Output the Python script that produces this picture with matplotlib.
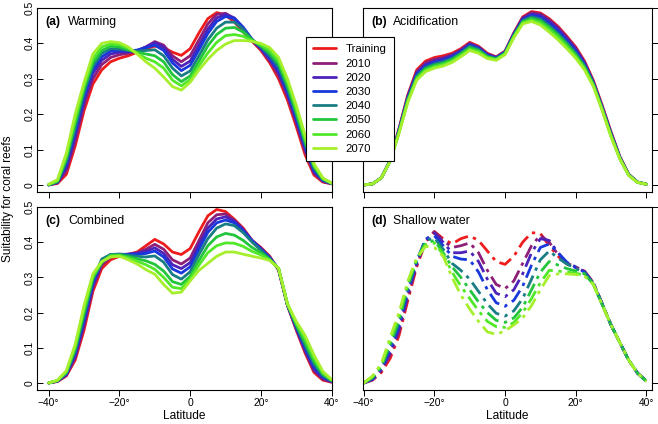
import matplotlib

matplotlib.use("Agg")
import matplotlib.pyplot as plt

plt.rcParams.update({"font.family": ["Liberation Sans", "DejaVu Sans"], "axes.linewidth": 0.8})

LAT = [-40, -37.5, -35, -32.5, -30, -27.5, -25, -22.5, -20, -17.5, -15, -12.5, -10, -7.5, -5, -2.5,
       0, 2.5, 5, 7.5, 10, 12.5, 15, 17.5, 20, 22.5, 25, 27.5, 30, 32.5, 35, 37.5, 40]
SERIES = ["Training", "2010", "2020", "2030", "2040", "2050", "2060", "2070"]
COLORS = ["#ee1c1c", "#8e1f78", "#4d22b8", "#1838dc", "#1a7d84", "#22c53c", "#52e82a", "#a6ef2c"]
PANELS = ["(a)", "(b)", "(c)", "(d)"]
NAMES = ["Warming", "Acidification", "Combined", "Shallow water"]
YTICKS = [0, 0.1, 0.2, 0.3, 0.4, 0.5]
YTICKLABELS = ["0", "0.1", "0.2", "0.3", "0.4", "0.5"]
XTICKS = [-40, -20, 0, 20, 40]
XTICKLABELS = ["\u221240\u00b0", "\u221220\u00b0", "0", "20\u00b0", "40\u00b0"]

WARMING = [
    [0.0, 0.004, 0.03, 0.11, 0.21, 0.285, 0.325, 0.348, 0.358, 0.365, 0.375, 0.385, 0.392, 0.388, 0.375, 0.366, 0.385, 0.43, 0.47, 0.487, 0.48, 0.46, 0.432, 0.406, 0.38, 0.345, 0.30, 0.24, 0.165, 0.085, 0.028, 0.008, 0.003],
    [0.0, 0.006, 0.04, 0.125, 0.225, 0.30, 0.34, 0.36, 0.368, 0.372, 0.378, 0.39, 0.405, 0.395, 0.365, 0.348, 0.365, 0.41, 0.455, 0.482, 0.485, 0.47, 0.44, 0.408, 0.383, 0.35, 0.31, 0.25, 0.175, 0.095, 0.033, 0.01, 0.003],
    [0.0, 0.007, 0.05, 0.14, 0.24, 0.315, 0.352, 0.37, 0.375, 0.376, 0.38, 0.39, 0.402, 0.39, 0.355, 0.335, 0.35, 0.395, 0.44, 0.472, 0.482, 0.472, 0.445, 0.41, 0.386, 0.355, 0.318, 0.258, 0.183, 0.102, 0.038, 0.012, 0.004],
    [0.0, 0.008, 0.06, 0.15, 0.25, 0.325, 0.362, 0.378, 0.38, 0.379, 0.381, 0.388, 0.395, 0.38, 0.345, 0.323, 0.338, 0.382, 0.428, 0.462, 0.476, 0.47, 0.445, 0.412, 0.388, 0.36, 0.325, 0.265, 0.19, 0.108, 0.042, 0.013, 0.004],
    [0.0, 0.009, 0.065, 0.16, 0.26, 0.335, 0.372, 0.385, 0.384, 0.38, 0.378, 0.38, 0.382, 0.365, 0.33, 0.308, 0.322, 0.365, 0.41, 0.443, 0.46, 0.46, 0.44, 0.41, 0.39, 0.365, 0.333, 0.272, 0.198, 0.115, 0.047, 0.015, 0.004],
    [0.001, 0.01, 0.075, 0.175, 0.272, 0.345, 0.38, 0.392, 0.39, 0.382, 0.375, 0.37, 0.365, 0.348, 0.312, 0.292, 0.308, 0.35, 0.393, 0.425, 0.443, 0.445, 0.432, 0.41, 0.393, 0.372, 0.342, 0.282, 0.205, 0.122, 0.052, 0.017, 0.005],
    [0.001, 0.012, 0.082, 0.185, 0.28, 0.356, 0.39, 0.398, 0.396, 0.386, 0.372, 0.358, 0.348, 0.33, 0.296, 0.28, 0.298, 0.337, 0.373, 0.403, 0.422, 0.425, 0.42, 0.407, 0.396, 0.38, 0.35, 0.29, 0.215, 0.13, 0.056, 0.018, 0.005],
    [0.002, 0.015, 0.09, 0.2, 0.29, 0.37, 0.4, 0.405, 0.402, 0.39, 0.37, 0.348, 0.33, 0.305, 0.278, 0.268, 0.29, 0.325, 0.355, 0.38, 0.398, 0.408, 0.408, 0.406, 0.40, 0.388, 0.36, 0.30, 0.225, 0.14, 0.06, 0.02, 0.005],
]

ACIDIFICATION = [
    [0.0, 0.003, 0.02, 0.07, 0.16, 0.255, 0.325, 0.35, 0.36, 0.365, 0.372, 0.385, 0.403, 0.392, 0.372, 0.362, 0.378, 0.43, 0.475, 0.49, 0.486, 0.47, 0.448, 0.42, 0.39, 0.35, 0.295, 0.225, 0.15, 0.08, 0.03, 0.008, 0.002],
    [0.0, 0.003, 0.02, 0.07, 0.158, 0.252, 0.32, 0.345, 0.355, 0.36, 0.368, 0.382, 0.4, 0.39, 0.37, 0.361, 0.377, 0.428, 0.472, 0.487, 0.483, 0.467, 0.445, 0.417, 0.387, 0.347, 0.292, 0.222, 0.148, 0.079, 0.03, 0.008, 0.002],
    [0.0, 0.003, 0.02, 0.07, 0.156, 0.249, 0.316, 0.34, 0.35, 0.356, 0.365, 0.379, 0.398, 0.388, 0.368, 0.36, 0.376, 0.427, 0.47, 0.483, 0.479, 0.462, 0.44, 0.413, 0.383, 0.344, 0.29, 0.22, 0.146, 0.078, 0.029, 0.008, 0.002],
    [0.0, 0.003, 0.02, 0.069, 0.154, 0.246, 0.312, 0.336, 0.346, 0.352, 0.362, 0.376, 0.395, 0.386, 0.366, 0.359, 0.375, 0.425, 0.467, 0.479, 0.474, 0.456, 0.434, 0.407, 0.378, 0.34, 0.288, 0.218, 0.144, 0.077, 0.029, 0.008, 0.002],
    [0.0, 0.003, 0.02, 0.069, 0.152, 0.243, 0.308, 0.332, 0.342, 0.348, 0.358, 0.373, 0.392, 0.383, 0.364, 0.357, 0.373, 0.423, 0.464, 0.475, 0.469, 0.45, 0.428, 0.402, 0.373, 0.337, 0.286, 0.216, 0.142, 0.076, 0.028, 0.008, 0.002],
    [0.0, 0.003, 0.02, 0.068, 0.15, 0.24, 0.304, 0.328, 0.338, 0.344, 0.354, 0.37, 0.388, 0.38, 0.362, 0.356, 0.372, 0.421, 0.461, 0.471, 0.464, 0.445, 0.423, 0.397, 0.368, 0.333, 0.284, 0.214, 0.14, 0.075, 0.028, 0.007, 0.002],
    [0.0, 0.003, 0.02, 0.068, 0.148, 0.237, 0.3, 0.324, 0.334, 0.34, 0.35, 0.366, 0.384, 0.376, 0.36, 0.354, 0.37, 0.419, 0.458, 0.466, 0.458, 0.439, 0.417, 0.391, 0.363, 0.329, 0.281, 0.212, 0.138, 0.074, 0.027, 0.007, 0.002],
    [0.0, 0.003, 0.02, 0.067, 0.146, 0.234, 0.296, 0.32, 0.33, 0.336, 0.346, 0.362, 0.38, 0.372, 0.357, 0.352, 0.368, 0.416, 0.455, 0.462, 0.452, 0.432, 0.41, 0.385, 0.358, 0.325, 0.278, 0.21, 0.136, 0.073, 0.027, 0.007, 0.002],
]

COMBINED = [
    [0.0, 0.004, 0.02, 0.065, 0.15, 0.26, 0.325, 0.35, 0.36, 0.365, 0.372, 0.39, 0.408, 0.395, 0.372, 0.365, 0.382, 0.43, 0.475, 0.493, 0.487, 0.465, 0.44, 0.405, 0.385, 0.36, 0.32, 0.22, 0.15, 0.085, 0.03, 0.008, 0.002],
    [0.0, 0.005, 0.022, 0.072, 0.162, 0.27, 0.335, 0.357, 0.363, 0.366, 0.37, 0.38, 0.394, 0.38, 0.35, 0.338, 0.355, 0.405, 0.455, 0.478, 0.48, 0.462, 0.437, 0.405, 0.383, 0.358, 0.322, 0.221, 0.153, 0.09, 0.035, 0.011, 0.003],
    [0.0, 0.005, 0.024, 0.078, 0.172, 0.278, 0.342, 0.362, 0.365, 0.366, 0.368, 0.374, 0.384, 0.368, 0.336, 0.325, 0.342, 0.392, 0.44, 0.466, 0.472, 0.46, 0.435, 0.405, 0.382, 0.357, 0.323, 0.222, 0.156, 0.095, 0.04, 0.014, 0.004],
    [0.0, 0.006, 0.026, 0.085, 0.182, 0.285, 0.348, 0.365, 0.366, 0.365, 0.366, 0.368, 0.375, 0.358, 0.324, 0.312, 0.33, 0.38, 0.428, 0.455, 0.463, 0.455, 0.432, 0.404, 0.38, 0.355, 0.324, 0.222, 0.159, 0.1, 0.047, 0.017, 0.005],
    [0.0, 0.006, 0.028, 0.09, 0.19, 0.292, 0.352, 0.365, 0.366, 0.363, 0.36, 0.358, 0.361, 0.343, 0.308, 0.295, 0.316, 0.365, 0.41, 0.44, 0.452, 0.447, 0.427, 0.4, 0.377, 0.353, 0.325, 0.223, 0.162, 0.107, 0.054, 0.021, 0.006],
    [0.0, 0.007, 0.03, 0.097, 0.2, 0.298, 0.342, 0.363, 0.364, 0.359, 0.353, 0.347, 0.337, 0.318, 0.288, 0.28, 0.303, 0.348, 0.39, 0.415, 0.425, 0.42, 0.405, 0.385, 0.37, 0.351, 0.325, 0.224, 0.166, 0.115, 0.062, 0.025, 0.007],
    [0.0, 0.007, 0.032, 0.104, 0.21, 0.304, 0.344, 0.361, 0.362, 0.355, 0.346, 0.336, 0.323, 0.3, 0.272, 0.268, 0.296, 0.335, 0.37, 0.39, 0.398, 0.397, 0.388, 0.374, 0.364, 0.349, 0.326, 0.224, 0.17, 0.125, 0.07, 0.029, 0.008],
    [0.0, 0.008, 0.035, 0.11, 0.22, 0.31, 0.345, 0.358, 0.36, 0.35, 0.338, 0.322, 0.309, 0.28, 0.255, 0.258, 0.29, 0.32, 0.34, 0.36, 0.372, 0.372, 0.366, 0.36, 0.355, 0.348, 0.326, 0.225, 0.175, 0.135, 0.08, 0.033, 0.01],
]

SHALLOW = [
    [0.0, 0.008, 0.03, 0.07, 0.135, 0.235, 0.33, 0.40, 0.43, 0.41, 0.395, 0.41, 0.418, 0.405, 0.375, 0.345, 0.337, 0.36, 0.40, 0.427, 0.425, 0.39, 0.36, 0.338, 0.328, 0.318, 0.285, 0.225, 0.165, 0.115, 0.065, 0.028, 0.005],
    [0.0, 0.009, 0.035, 0.08, 0.145, 0.245, 0.335, 0.405, 0.43, 0.405, 0.385, 0.39, 0.398, 0.37, 0.32, 0.28, 0.268, 0.29, 0.34, 0.39, 0.42, 0.40, 0.365, 0.34, 0.33, 0.317, 0.285, 0.225, 0.165, 0.115, 0.065, 0.028, 0.005],
    [0.0, 0.01, 0.038, 0.088, 0.155, 0.255, 0.34, 0.405, 0.425, 0.40, 0.37, 0.37, 0.375, 0.345, 0.295, 0.255, 0.245, 0.265, 0.31, 0.37, 0.41, 0.405, 0.37, 0.342, 0.33, 0.316, 0.284, 0.225, 0.165, 0.115, 0.065, 0.028, 0.005],
    [0.0, 0.012, 0.042, 0.096, 0.163, 0.262, 0.345, 0.41, 0.418, 0.39, 0.36, 0.352, 0.35, 0.315, 0.265, 0.228, 0.218, 0.235, 0.275, 0.335, 0.385, 0.395, 0.37, 0.343, 0.328, 0.315, 0.283, 0.224, 0.165, 0.115, 0.065, 0.028, 0.005],
    [0.0, 0.014, 0.045, 0.104, 0.172, 0.27, 0.348, 0.405, 0.412, 0.38, 0.34, 0.32, 0.295, 0.26, 0.225, 0.198, 0.19, 0.205, 0.24, 0.295, 0.35, 0.375, 0.355, 0.338, 0.325, 0.313, 0.282, 0.224, 0.165, 0.115, 0.065, 0.028, 0.005],
    [0.0, 0.016, 0.048, 0.112, 0.18, 0.278, 0.35, 0.398, 0.405, 0.37, 0.33, 0.3, 0.265, 0.23, 0.2, 0.178, 0.172, 0.185, 0.215, 0.265, 0.315, 0.345, 0.335, 0.325, 0.318, 0.31, 0.281, 0.223, 0.165, 0.115, 0.065, 0.028, 0.005],
    [0.0, 0.018, 0.052, 0.12, 0.19, 0.284, 0.352, 0.392, 0.398, 0.365, 0.315, 0.275, 0.24, 0.205, 0.175, 0.16, 0.158, 0.172, 0.2, 0.24, 0.285, 0.32, 0.318, 0.315, 0.312, 0.306, 0.28, 0.222, 0.165, 0.115, 0.065, 0.028, 0.005],
    [0.0, 0.02, 0.055, 0.13, 0.2, 0.29, 0.355, 0.388, 0.385, 0.36, 0.3, 0.25, 0.21, 0.175, 0.145, 0.138, 0.148, 0.165, 0.185, 0.22, 0.265, 0.305, 0.31, 0.31, 0.308, 0.303, 0.28, 0.222, 0.165, 0.115, 0.065, 0.028, 0.005],
]

W, H = 658, 424


def px_rect(x0, y0, x1, y1):
    return [x0 / W, 1 - y1 / H, (x1 - x0) / W, (y1 - y0) / H]


fig = plt.figure(figsize=(W / 100, H / 100), dpi=100)
axes = [
    fig.add_axes(px_rect(37, 8, 332, 192)),
    fig.add_axes(px_rect(363, 8, 652, 192)),
    fig.add_axes(px_rect(37, 207, 332, 390)),
    fig.add_axes(px_rect(363, 207, 652, 390)),
]
datasets = [WARMING, ACIDIFICATION, COMBINED, SHALLOW]

for i, (ax, data) in enumerate(zip(axes, datasets)):
    ls = (0, (5, 2, 1.2, 2)) if i == 3 else "-"
    for vals, col, lab in zip(data, COLORS, SERIES):
        ax.plot(LAT, vals, color=col, lw=2.0, ls=ls, label=lab,
                solid_capstyle="round", solid_joinstyle="round")
    left = i in (0, 2)
    ax.set_xlim((-43.3, 40.1) if left else (-40.2, 41.6))
    ax.set_ylim(-0.02, 0.5)
    ax.set_xticks(XTICKS)
    ax.set_yticks(YTICKS)
    ax.tick_params(axis="x", direction="out", length=4.5, width=0.7, pad=1.5, labelsize=7.4)
    if i >= 2:
        ax.set_xticklabels(XTICKLABELS)
        ax.set_xlabel("Latitude", fontsize=8.6, labelpad=1.5)
    else:
        ax.set_xticklabels([])
    if left:
        ax.set_yticklabels(YTICKLABELS)
        ax.tick_params(axis="y", direction="in", length=4, width=0.7, pad=2,
                       labelsize=7.4, labelrotation=90)
        for t in ax.get_yticklabels():
            t.set_va("center")
    else:
        ax.yaxis.tick_right()
        ax.set_yticklabels([])
        ax.tick_params(axis="y", direction="out", length=4, width=0.7)
    ax.text(0.028, 0.925, PANELS[i], transform=ax.transAxes, fontsize=8.8,
            fontweight="bold", va="center", ha="left")
    ax.text(0.105, 0.925, NAMES[i], transform=ax.transAxes, fontsize=8.8,
            va="center", ha="left")

fig.text(8 / W, 1 - 199 / H, "Suitability for coral reefs", rotation=90,
         fontsize=8.6, ha="center", va="center")

handles, labels = axes[0].get_legend_handles_labels()
leg = fig.legend(handles, labels, loc="upper left", bbox_to_anchor=(306 / W, 1 - 37 / H),
                 borderaxespad=0, frameon=True, fancybox=False, fontsize=8.2,
                 handlelength=2.0, handletextpad=0.8, labelspacing=0.37,
                 borderpad=0.65, framealpha=1)
leg.get_frame().set_edgecolor("black")
leg.get_frame().set_linewidth(0.8)

fig.savefig("out.png", dpi=100)
